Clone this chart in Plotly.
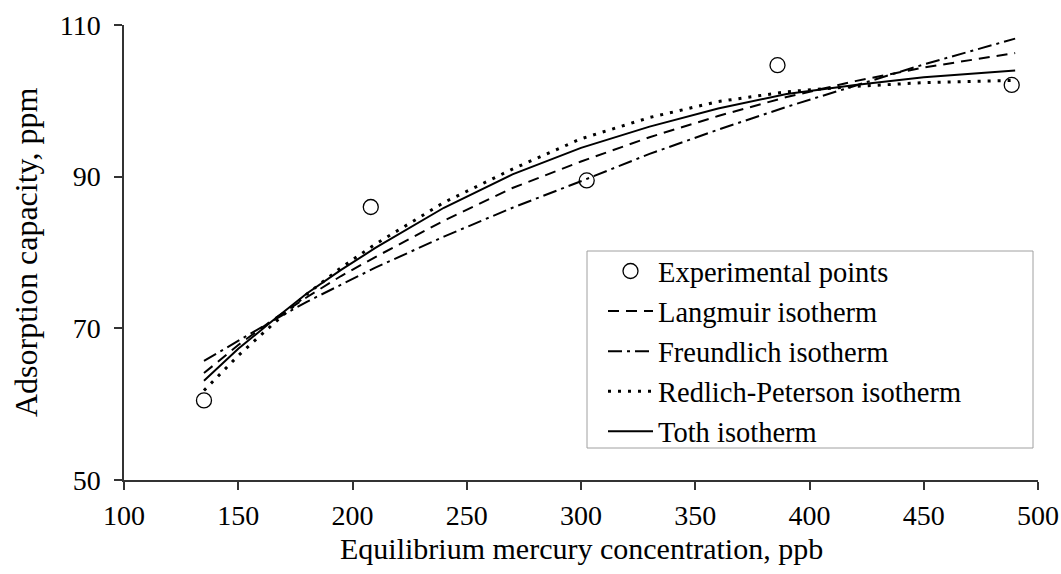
import plotly.graph_objects as go

# Experimental data
exp_x = [135, 208, 302.5, 386, 488.5]
exp_y = [60.5, 86.0, 89.5, 104.7, 102.1]

# Model curves
model_x = [135, 150, 165, 180, 195, 210, 240, 270, 300, 330, 360, 390, 420, 450, 490]
langmuir = [64.1, 67.8, 71.1, 74.1, 76.9, 79.4, 84.2, 88.5, 92.0, 95.2, 98.0, 100.5, 102.6, 104.4, 106.3]
freundlich = [65.7, 68.4, 71.0, 73.5, 75.8, 78.0, 82.1, 85.9, 89.4, 93.0, 96.2, 99.2, 102.0, 104.8, 108.2]
redlich_peterson = [61.8, 66.4, 70.5, 74.5, 78.0, 81.1, 86.6, 91.0, 95.0, 97.8, 99.9, 101.2, 101.9, 102.4, 102.7]
toth = [63.1, 67.3, 71.0, 74.6, 77.7, 80.6, 85.9, 90.3, 93.8, 96.6, 99.0, 100.9, 102.1, 103.1, 104.0]

x_ticks = [100, 150, 200, 250, 300, 350, 400, 450, 500]
y_ticks = [50, 70, 90, 110]

FONT = "Liberation Serif, Times New Roman, serif"

# body margin is removed by the post script; plot area at x 124..1038, y 25..480
fig = go.Figure()
fig.add_trace(go.Scatter(
    x=exp_x, y=exp_y, mode="markers", name="Experimental points",
    marker=dict(symbol="circle-open", size=15, color="black", line=dict(width=1.3, color="black")),
))
fig.add_trace(go.Scatter(
    x=model_x, y=langmuir, mode="lines", name="Langmuir isotherm",
    line=dict(color="black", width=2, dash="11px,7px"),
))
fig.add_trace(go.Scatter(
    x=model_x, y=freundlich, mode="lines", name="Freundlich isotherm",
    line=dict(color="black", width=2, dash="14px,5px,3px,5px"),
))
fig.add_trace(go.Scatter(
    x=model_x, y=redlich_peterson, mode="lines", name="Redlich-Peterson isotherm",
    line=dict(color="black", width=3, dash="3px,7px"),
))
fig.add_trace(go.Scatter(
    x=model_x, y=toth, mode="lines", name="Toth isotherm",
    line=dict(color="black", width=2),
))

PW = 914.0
PH = 455.0

fig.update_layout(
    width=1061, height=574,
    margin=dict(l=124, r=23, t=25, b=94, autoexpand=False),
    paper_bgcolor="white", plot_bgcolor="white",
    font=dict(family=FONT, size=28, color="black"),
    showlegend=True,
    hovermode=False,
    legend=dict(
        x=(603 - 124) / PW, y=(480 - 246) / PH, xanchor="left", yanchor="top",
        bgcolor="rgba(0,0,0,0)", borderwidth=0,
        font=dict(family=FONT, size=28.5, color="black"),
        itemwidth=45,
    ),
    shapes=[dict(
        type="rect", xref="paper", yref="paper",
        x0=(587 - 124) / PW, x1=(1033 - 124) / PW,
        y0=(480 - 448) / PH, y1=(480 - 251) / PH,
        line=dict(color="#a0a0a0", width=1), fillcolor="white", layer="below",
    )],
    xaxis=dict(
        range=[100, 500], tickvals=x_ticks, ticktext=[str(v) for v in x_ticks],
        automargin=False, ticklabeloverflow="allow",
        showline=True, linecolor="#333333", linewidth=1.5,
        ticks="outside", ticklen=8, tickwidth=1.5, tickcolor="#333333",
        ticklabelstandoff=2,
        showgrid=False, zeroline=False,
    ),
    yaxis=dict(
        range=[50, 110], tickvals=y_ticks, ticktext=[str(v) for v in y_ticks],
        automargin=False,
        showline=True, linecolor="#333333", linewidth=1.5,
        ticks="outside", ticklen=8, tickwidth=1.5, tickcolor="#333333",
        ticklabelstandoff=8,
        showgrid=False, zeroline=False,
    ),
    annotations=[
        dict(text="Equilibrium mercury concentration, ppb", xref="paper", yref="paper",
             x=0.5, y=(480 - 548) / PH, xanchor="center", yanchor="middle",
             showarrow=False, font=dict(family=FONT, size=30, color="black")),
        dict(text="Adsorption capacity, ppm", xref="paper", yref="paper",
             x=(26 - 124) / PW, y=(480 - 252) / PH, xanchor="center", yanchor="middle",
             textangle=-90, showarrow=False, font=dict(family=FONT, size=32, color="black")),
    ],
)

fig.write_html(
    "out.html",
    config={"displayModeBar": False},
    post_script="document.body.style.margin='0';document.documentElement.style.overflow='hidden';document.body.style.overflow='hidden';",
)
